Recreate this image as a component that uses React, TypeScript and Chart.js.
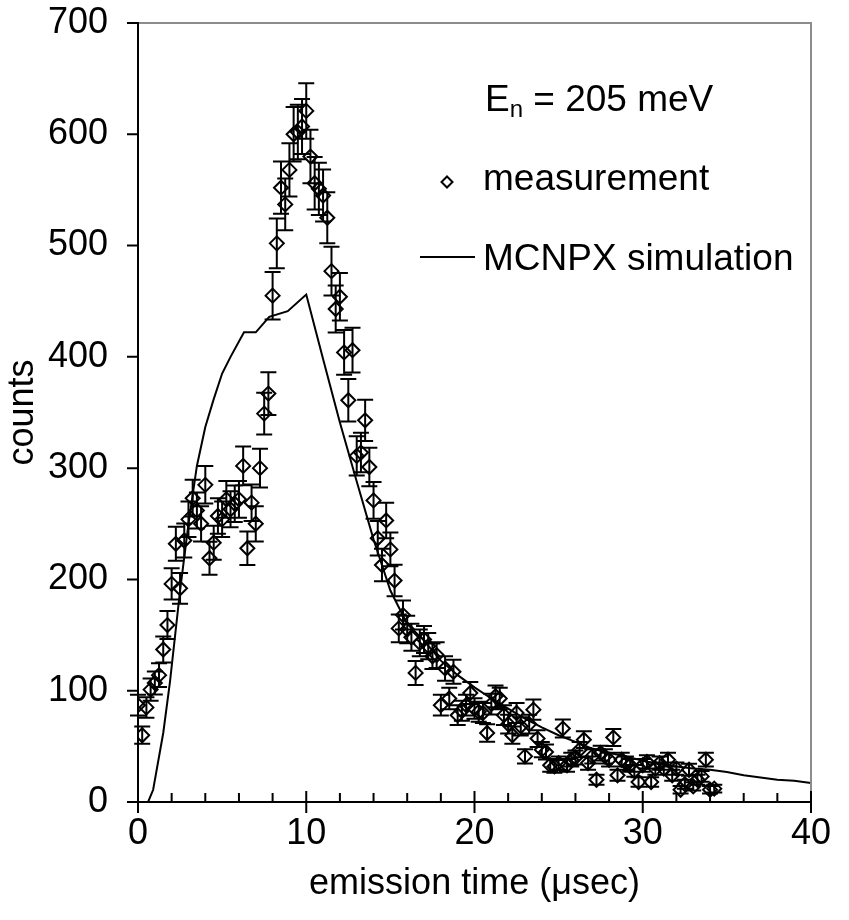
import React, { useEffect, useRef } from 'react';
import { Chart, registerables } from 'chart.js';

Chart.register(...registerables);

// ---- data ----
const measTime = [
  0.0, 0.25, 0.5, 0.75, 1.0, 1.25, 1.5, 1.75, 2.0, 2.25, 2.5, 2.75, 3.0, 3.25, 3.5, 3.75,
  4.0, 4.25, 4.5, 4.75, 5.0, 5.25, 5.5, 5.75, 6.0, 6.25, 6.5, 6.75, 7.0, 7.25, 7.5, 7.75,
  8.0, 8.25, 8.5, 8.75, 9.0, 9.25, 9.5, 9.75, 10.0, 10.25, 10.5, 10.75, 11.0, 11.25, 11.5, 11.75,
  12.0, 12.25, 12.5, 12.75, 13.0, 13.25, 13.5, 13.75, 14.0, 14.25, 14.5, 14.75, 15.0, 15.25, 15.5, 15.75,
  16.0, 16.25, 16.5, 16.75, 17.0, 17.25, 17.5, 17.75, 18.0, 18.25, 18.5, 18.75, 19.0, 19.25, 19.5, 19.75,
  20.0, 20.25, 20.5, 20.75, 21.0, 21.25, 21.5, 21.75, 22.0, 22.25, 22.5, 22.75, 23.0, 23.25, 23.5, 23.75,
  24.0, 24.25, 24.5, 24.75, 25.0, 25.25, 25.5, 25.75, 26.0, 26.25, 26.5, 26.75, 27.0, 27.25, 27.5, 27.75,
  28.0, 28.25, 28.5, 28.75, 29.0, 29.25, 29.5, 29.75, 30.0, 30.25, 30.5, 30.75, 31.0, 31.25, 31.5, 31.75,
  32.0, 32.25, 32.5, 32.75, 33.0, 33.25, 33.5, 33.75, 34.0, 34.25,
];
const measCounts = [
  87, 60, 85, 101, 107, 114, 137, 159, 196, 232, 192, 235, 254, 273, 262, 250,
  285, 219, 233, 257, 254, 272, 263, 268, 272, 302, 228, 269, 250, 300, 349, 367,
  455, 502, 552, 537, 568, 600, 602, 607, 621, 580, 556, 551, 545, 525, 477, 443,
  454, 404, 361, 406, 311, 314, 343, 301, 271, 237, 213, 253, 227, 199, 156, 168,
  155, 148, 116, 143, 146, 140, 131, 132, 87, 120, 93, 117, 78, 82, 87, 98,
  84, 81, 80, 62, 88, 95, 93, 78, 70, 60, 80, 68, 41, 70, 83, 57,
  47, 45, 33, 32, 35, 66, 33, 38, 40, 47, 56, 35, 41, 20, 44, 41,
  38, 58, 24, 38, 35, 33, 28, 18, 33, 36, 18, 30, 35, 30, 38, 24,
  30, 11, 16, 29, 14, 20, 23, 38, 11, 12,
];
const simTime = [
  0.6, 0.9, 1.5, 1.9, 2.5, 3.0, 3.5, 4.0, 4.5, 5.0, 5.5, 6.3, 7.0, 7.8, 8.9, 10.0,
  11.0, 12.0, 13.0, 14.0, 15.0, 16.0, 17.0, 18.0, 19.0, 20.0, 21.0, 22.0, 23.0, 24.0,
  25.0, 26.0, 27.0, 28.0, 29.0, 30.0, 31.0, 32.0, 33.0, 34.0, 35.0, 36.0, 37.0, 38.0, 39.0, 40.0,
];
const simCounts = [
  0, 11, 62, 108, 190, 250, 302, 337, 362, 385, 400, 422, 422, 436, 441, 456,
  398, 341, 288, 236, 190, 160, 145, 127, 114, 103, 93, 84, 75, 67,
  60, 54, 48, 44, 41, 37, 34, 32, 30, 29, 27, 24, 22, 20, 19, 17,
];
const xMajorTicks = [0, 10, 20, 30, 40];
const xMinorTicks = [2, 4, 6, 8, 12, 14, 16, 18, 22, 24, 26, 28, 32, 34, 36, 38];
const yMajorTicks = [0, 100, 200, 300, 400, 500, 600, 700];

const FONT = '"Liberation Sans", Arial, Helvetica, sans-serif';

const errorBarPlugin = {
  id: 'errorBars',
  afterDatasetsDraw(chart: any) {
    const { ctx, scales } = chart;
    const x = scales.x, y = scales.y;
    ctx.save();
    ctx.strokeStyle = '#000';
    ctx.lineWidth = 2;
    ctx.beginPath();
    for (let i = 0; i < measCounts.length; i++) {
      const c = measCounts[i];
      const e = Math.sqrt(c); // Poisson counting uncertainty
      const px = x.getPixelForValue(measTime[i]);
      const pt = y.getPixelForValue(c + e);
      const pb = y.getPixelForValue(Math.max(0, c - e));
      ctx.moveTo(px, pt); ctx.lineTo(px, pb);
      ctx.moveTo(px - 8, pt); ctx.lineTo(px + 8, pt);
      ctx.moveTo(px - 8, pb); ctx.lineTo(px + 8, pb);
    }
    ctx.stroke();
    ctx.restore();
  },
};

const framePlugin = {
  id: 'frame',
  afterDraw(chart: any) {
    const { ctx, chartArea, scales } = chart;
    const { left, right, top, bottom } = chartArea;
    const x = scales.x, y = scales.y;
    ctx.save();
    // grey box top/right
    ctx.strokeStyle = '#8c8c8c';
    ctx.lineWidth = 2;
    ctx.beginPath();
    ctx.moveTo(left, top); ctx.lineTo(right, top); ctx.lineTo(right, bottom);
    ctx.stroke();
    // black axes
    ctx.strokeStyle = '#000';
    ctx.beginPath();
    ctx.moveTo(left, top - 1); ctx.lineTo(left, bottom + 11);
    ctx.moveTo(left - 11, bottom); ctx.lineTo(right + 1, bottom);
    for (const v of yMajorTicks) {
      const py = y.getPixelForValue(v);
      ctx.moveTo(left - 11, py); ctx.lineTo(left, py);
    }
    for (const v of xMajorTicks) {
      const px = x.getPixelForValue(v);
      ctx.moveTo(px, bottom - 11); ctx.lineTo(px, bottom + 11);
    }
    for (const v of xMinorTicks) {
      const px = x.getPixelForValue(v);
      ctx.moveTo(px, bottom - 9); ctx.lineTo(px, bottom);
    }
    ctx.stroke();

    // legend / annotation
    ctx.fillStyle = '#000';
    ctx.textBaseline = 'alphabetic';
    ctx.textAlign = 'left';
    ctx.font = `37px ${FONT}`;
    let tx = 485;
    ctx.fillText('E', tx, 111);
    tx += ctx.measureText('E').width;
    ctx.font = `24px ${FONT}`;
    ctx.fillText('n', tx, 117);
    tx += ctx.measureText('n').width;
    ctx.font = `37px ${FONT}`;
    ctx.fillText(' = 205 meV', tx, 111);

    // diamond marker
    ctx.lineWidth = 2;
    ctx.beginPath();
    const dx = 447, dy = 182, r = 5.5;
    ctx.moveTo(dx, dy - r); ctx.lineTo(dx + r, dy); ctx.lineTo(dx, dy + r); ctx.lineTo(dx - r, dy); ctx.closePath();
    ctx.stroke();
    ctx.fillText('measurement', 483, 190);

    ctx.beginPath();
    ctx.moveTo(420, 257); ctx.lineTo(475, 257);
    ctx.stroke();
    ctx.fillText('MCNPX simulation', 483, 270);
    ctx.restore();
  },
};

export default function App() {
  const canvasRef = useRef<HTMLCanvasElement | null>(null);

  useEffect(() => {
    const canvas = canvasRef.current;
    if (!canvas) return;
    const chart = new Chart(canvas, {
      type: 'scatter',
      data: {
        datasets: [
          {
            label: 'measurement',
            data: measTime.map((t, i) => ({ x: t, y: measCounts[i] })),
            showLine: false,
            pointStyle: 'rectRot',
            pointRadius: 7,
            pointBorderWidth: 2,
            pointBorderColor: '#000',
            pointBackgroundColor: 'rgba(0,0,0,0)',
          },
          {
            label: 'MCNPX simulation',
            data: simTime.map((t, i) => ({ x: t, y: simCounts[i] })),
            showLine: true,
            borderColor: '#000',
            borderWidth: 2,
            pointRadius: 0,
            tension: 0,
            fill: false,
          },
        ],
      },
      options: {
        responsive: false,
        animation: false,
        devicePixelRatio: 1,
        layout: { padding: { top: 23, right: 38, left: 0, bottom: 0 } },
        plugins: {
          legend: { display: false },
          tooltip: { enabled: false },
        },
        scales: {
          x: {
            type: 'linear',
            min: 0,
            max: 40,
            grid: { display: false, drawTicks: false },
            border: { display: false },
            ticks: {
              stepSize: 10,
              autoSkip: false,
              maxRotation: 0,
              color: '#000',
              padding: 10,
              font: { family: FONT, size: 36 },
            },
            title: {
              display: true,
              text: 'emission time (μsec)',
              color: '#000',
              font: { family: FONT, size: 36 },
              padding: { top: 0, bottom: 14 },
            },
            afterFit: (s: any) => {
              s.height = 118;
              s.paddingLeft = 0;
              s.paddingRight = 0;
              s.paddingTop = 0;
              s.paddingBottom = 0;
            },
          },
          y: {
            type: 'linear',
            min: 0,
            max: 700,
            grid: { display: false, drawTicks: false },
            border: { display: false },
            ticks: {
              stepSize: 100,
              autoSkip: false,
              color: '#000',
              padding: 30,
              font: { family: FONT, size: 36 },
            },
            title: {
              display: true,
              text: 'counts',
              color: '#000',
              font: { family: FONT, size: 36 },
              padding: { top: 1, bottom: 0 },
            },
            afterFit: (s: any) => {
              s.width = 138;
              s.paddingTop = 0;
              s.paddingBottom = 0;
              s.paddingLeft = 0;
              s.paddingRight = 0;
            },
          },
        },
      },
      plugins: [errorBarPlugin, framePlugin],
    });
    return () => chart.destroy();
  }, []);

  return (
    <div style={{ position: 'absolute', left: 0, top: 0, width: 849, height: 920, background: '#fff' }}>
      <canvas ref={canvasRef} width={849} height={920} style={{ display: 'block', width: 849, height: 920 }} />
    </div>
  );
}
